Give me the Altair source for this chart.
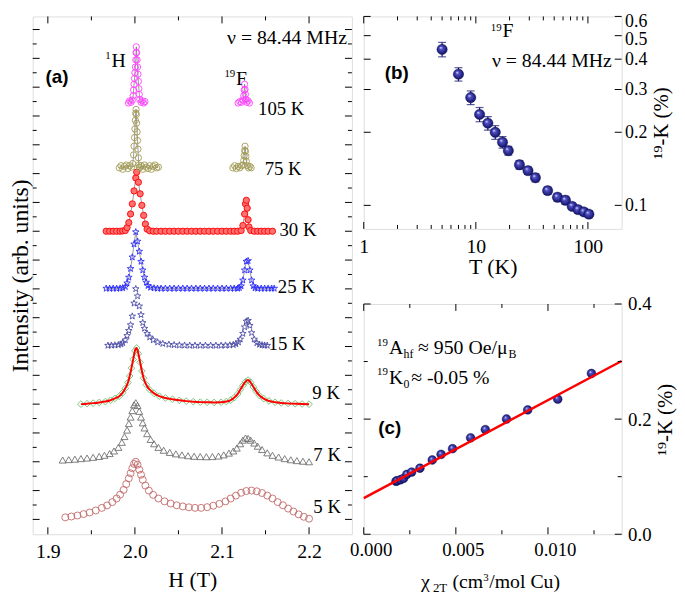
import altair as alt
import pandas as pd

SERIF = "Liberation Serif, Times New Roman, DejaVu Serif, serif"
SANS = "Liberation Sans, Arial, DejaVu Sans, sans-serif"

# ====================== panel (a): spectra (intensity in tick units, offset stacked) ======================
H_105K_H = [1.9925, 1.994, 1.9955, 1.997, 1.998, 1.9985, 1.999, 1.9995, 2.000, 2.0005, 2.001, 2.0013, 2.0016,
            2.002, 2.0025, 2.003, 2.0035, 2.004, 2.0045, 2.005, 2.0055, 2.007, 2.0085, 2.010, 2.0115]
I_105K_H = [28.90, 29.05, 28.95, 29.10, 29.40, 29.80, 30.20, 30.60, 31.00, 31.40, 31.90, 32.40, 32.80,
            32.40, 31.90, 31.40, 30.90, 30.40, 29.90, 29.50, 29.15, 28.95, 29.05, 28.90, 29.00]
H_105K_F = [2.1185, 2.1205, 2.1225, 2.124, 2.125, 2.1255, 2.126, 2.1265, 2.127, 2.1275, 2.1285, 2.130, 2.1315]
I_105K_F = [28.90, 29.00, 28.95, 29.10, 29.40, 29.80, 30.20, 29.85, 29.50, 29.15, 28.95, 29.05, 28.90]

H_75K_H = [1.982, 1.984, 1.986, 1.988, 1.990, 1.992, 1.994, 1.996, 1.9975, 1.9985, 1.999, 1.9995, 2.000, 2.0005,
           2.001, 2.0013, 2.0016, 2.002, 2.0025, 2.003, 2.0035, 2.004, 2.0045, 2.005, 2.0055, 2.007, 2.009,
           2.011, 2.013, 2.015, 2.017, 2.019, 2.021, 2.023, 2.025, 2.027]
I_75K_H = [24.40, 24.55, 24.30, 24.50, 24.60, 24.35, 24.55, 24.45, 24.70, 25.30, 25.90, 26.50, 27.10, 27.70,
           28.20, 28.46, 28.10, 27.50, 26.90, 26.30, 25.70, 25.10, 24.60, 24.45, 24.40, 24.55, 24.30, 24.60,
           24.45, 24.35, 24.55, 24.30, 24.50, 24.60, 24.40, 24.45]
H_75K_F = [2.1125, 2.1145, 2.1165, 2.1185, 2.1205, 2.1225, 2.124, 2.125, 2.1255, 2.126, 2.1265, 2.127, 2.1275,
           2.128, 2.129, 2.1305, 2.132, 2.1335]
I_75K_F = [24.40, 24.55, 24.35, 24.50, 24.40, 24.55, 24.60, 24.90, 25.25, 25.60, 25.90, 25.55, 25.20,
           24.85, 24.55, 24.40, 24.50, 24.40]

H_30K = [1.967, 1.971, 1.975, 1.979, 1.983, 1.986, 1.989, 1.991, 1.993, 1.995, 1.997, 1.999, 2.001, 2.002,
         2.004, 2.006, 2.008, 2.010, 2.012, 2.014,
         2.017, 2.021, 2.025, 2.030, 2.035, 2.040, 2.045, 2.050, 2.055, 2.060, 2.065, 2.070, 2.075, 2.080,
         2.085, 2.090, 2.095, 2.100, 2.105, 2.110, 2.114, 2.118,
         2.122, 2.124, 2.126, 2.127, 2.128, 2.129, 2.130, 2.131, 2.133,
         2.137, 2.141, 2.145, 2.149, 2.153, 2.158]
I_30K = [20.00, 20.00, 20.00, 20.00, 20.00, 20.02, 20.05, 20.25, 20.60, 21.20, 21.90, 22.80, 23.70, 24.10,
         23.40, 22.60, 21.80, 21.10, 20.50, 20.15,
         20.03, 20.00, 20.00, 20.00, 20.00, 20.00, 20.00, 20.00, 20.00, 20.00, 20.00, 20.00, 20.00, 20.00,
         20.00, 20.00, 20.00, 20.00, 20.00, 20.00, 20.00, 20.00,
         20.05, 20.40, 21.20, 21.90, 22.15, 21.60, 20.80, 20.30, 20.05,
         20.00, 20.00, 20.00, 20.00, 20.00, 20.00]

H_25K = [1.967, 1.971, 1.975, 1.979, 1.983, 1.986, 1.989, 1.991, 1.993, 1.995, 1.997, 1.999, 2.001, 2.003,
         2.005, 2.007, 2.009, 2.011, 2.013, 2.015, 2.018,
         2.022, 2.026, 2.030, 2.035, 2.040, 2.045, 2.050, 2.055, 2.060, 2.065, 2.070, 2.075, 2.080, 2.085,
         2.090, 2.095, 2.100, 2.105, 2.110, 2.114, 2.118,
         2.120, 2.122, 2.124, 2.126, 2.128, 2.130, 2.132, 2.134, 2.136, 2.138,
         2.141, 2.145, 2.149, 2.153, 2.157, 2.160]
I_25K = [16.03, 16.03, 16.03, 16.03, 16.04, 16.06, 16.15, 16.40, 16.80, 17.40, 18.20, 19.10, 19.95, 19.30,
         18.60, 17.90, 17.30, 16.80, 16.45, 16.22, 16.10,
         16.05, 16.03, 16.03, 16.03, 16.03, 16.03, 16.03, 16.03, 16.03, 16.03, 16.03, 16.03, 16.03, 16.03,
         16.03, 16.03, 16.03, 16.03, 16.03, 16.03, 16.03,
         16.08, 16.20, 16.60, 17.30, 17.90, 17.95, 17.30, 16.60, 16.20, 16.06,
         16.03, 16.03, 16.03, 16.03, 16.03, 16.03]

H_15K = [1.969, 1.973, 1.977, 1.981, 1.984, 1.986, 1.989, 1.991, 1.993, 1.995, 1.997, 1.999, 2.001, 2.003,
         2.005, 2.007, 2.009, 2.011, 2.014, 2.017, 2.021, 2.026, 2.032, 2.039,
         2.045, 2.051, 2.057, 2.063, 2.069, 2.075, 2.081, 2.087, 2.093, 2.099, 2.104, 2.109, 2.113,
         2.116, 2.119, 2.121, 2.124, 2.126, 2.128, 2.130, 2.132, 2.134, 2.137, 2.140, 2.143, 2.146, 2.149, 2.152]
I_15K = [12.07, 12.08, 12.09, 12.11, 12.16, 12.25, 12.45, 12.75, 13.10, 13.50, 14.10, 15.00, 16.00, 15.50,
         14.80, 14.20, 13.65, 13.25, 12.90, 12.65, 12.45, 12.30, 12.20, 12.14,
         12.11, 12.09, 12.08, 12.07, 12.07, 12.07, 12.07, 12.07, 12.07, 12.07, 12.08, 12.09, 12.12,
         12.18, 12.30, 12.50, 12.90, 13.35, 13.75, 13.80, 13.45, 12.95, 12.50, 12.25, 12.14, 12.10, 12.08, 12.07]

H_9K = [1.938, 1.945, 1.952, 1.959, 1.966, 1.972, 1.977, 1.982, 1.986, 1.989, 1.992, 1.994, 1.996, 1.998,
        2.000, 2.002, 2.004, 2.006, 2.008, 2.010, 2.013, 2.017, 2.022, 2.028, 2.035, 2.043, 2.051, 2.059,
        2.067, 2.075, 2.083, 2.091, 2.099, 2.105, 2.110, 2.114, 2.118, 2.121, 2.124, 2.127, 2.130, 2.133,
        2.136, 2.139, 2.143, 2.148, 2.154, 2.161, 2.168, 2.176, 2.184, 2.192, 2.200]
I_9K = [8.00, 8.03, 8.07, 8.12, 8.18, 8.27, 8.40, 8.55, 8.80, 9.10, 9.50, 9.95, 10.50, 11.10,
        11.70, 11.90, 11.50, 10.90, 10.30, 9.80, 9.35, 9.00, 8.75, 8.55, 8.43, 8.34, 8.27, 8.21,
        8.17, 8.14, 8.13, 8.12, 8.13, 8.18, 8.28, 8.45, 8.70, 9.00, 9.30, 9.55, 9.67, 9.50,
        9.20, 8.90, 8.60, 8.38, 8.22, 8.13, 8.08, 8.05, 8.03, 8.01, 8.00]

H_7K = [1.917, 1.924, 1.931, 1.938, 1.945, 1.952, 1.959, 1.965, 1.971, 1.976, 1.981, 1.985, 1.988, 1.991,
        1.993, 1.995, 1.997, 1.999, 2.001, 2.003, 2.005, 2.007, 2.009, 2.011, 2.014, 2.018, 2.022, 2.027,
        2.033, 2.040, 2.047, 2.054, 2.061, 2.068, 2.075, 2.082, 2.089, 2.096, 2.102, 2.108, 2.113, 2.117,
        2.121, 2.124, 2.127, 2.130, 2.133, 2.137, 2.141, 2.146, 2.152, 2.158, 2.165, 2.172, 2.179, 2.186,
        2.193, 2.200]
I_7K = [4.12, 4.15, 4.18, 4.22, 4.26, 4.31, 4.37, 4.45, 4.57, 4.75, 5.00, 5.35, 5.75, 6.20,
        6.65, 7.10, 7.55, 7.95, 8.10, 7.90, 7.50, 7.10, 6.70, 6.35, 5.95, 5.55, 5.25, 5.00,
        4.80, 4.65, 4.55, 4.48, 4.42, 4.38, 4.36, 4.35, 4.36, 4.40, 4.48, 4.60, 4.75, 4.95,
        5.25, 5.50, 5.65, 5.62, 5.50, 5.30, 5.08, 4.85, 4.62, 4.45, 4.33, 4.22, 4.14, 4.08,
        4.04, 4.00]

H_5K = [1.920, 1.927, 1.934, 1.941, 1.948, 1.955, 1.962, 1.968, 1.974, 1.979, 1.983, 1.987, 1.990, 1.993,
        1.995, 1.997, 1.999, 2.001, 2.003, 2.005, 2.007, 2.009, 2.012, 2.016, 2.021, 2.027, 2.034, 2.041,
        2.048, 2.055, 2.062, 2.069, 2.076, 2.083, 2.090, 2.097, 2.104, 2.110, 2.116, 2.122, 2.128, 2.134,
        2.140, 2.146, 2.152, 2.158, 2.164, 2.170, 2.176, 2.182, 2.188, 2.194, 2.200]
I_5K = [0.14, 0.20, 0.27, 0.37, 0.48, 0.62, 0.80, 0.97, 1.20, 1.45, 1.72, 2.05, 2.45, 2.85,
        3.20, 3.55, 3.85, 4.00, 3.80, 3.45, 3.10, 2.75, 2.35, 2.00, 1.70, 1.45, 1.25, 1.10,
        0.98, 0.90, 0.84, 0.80, 0.80, 0.85, 0.95, 1.08, 1.25, 1.45, 1.65, 1.85, 1.97, 2.00,
        1.95, 1.83, 1.65, 1.45, 1.20, 0.98, 0.75, 0.55, 0.35, 0.18, 0.05]

a_temp_labels = ["105 K", "75 K", "30 K", "25 K", "15 K", "9 K", "7 K", "5 K"]
a_xticks_major = [1.9, 2.0, 2.1, 2.2]
a_xticks_minor = [1.95, 2.05, 2.15]
a_yticks_major = [0, 2, 4, 6, 8, 10, 12, 14, 16, 18, 20, 22, 24, 26, 28, 30, 32, 34]
a_yticks_minor = [1, 3, 5, 7, 9, 11, 13, 15, 17, 19, 21, 23, 25, 27, 29, 31, 33]

# ====================== panel (b): 19F shift vs T ======================
b_T = [5, 7, 9, 10.8, 12.8, 14.9, 17.3, 19.5, 24.5, 29.2, 34, 43.7, 53.5, 63, 72.4, 81.7, 92, 102]
b_K = [0.439, 0.347, 0.278, 0.237, 0.218, 0.200, 0.182, 0.168, 0.147, 0.139, 0.130, 0.115, 0.108, 0.105,
       0.099, 0.096, 0.094, 0.092]
b_err = [0.030, 0.022, 0.018, 0.016, 0.014, 0.013, 0.010, 0.007, 0.006, 0.005, 0.005, 0.004, 0.004, 0.004,
         0.003, 0.003, 0.003, 0.003]
b_xticks_major = [1, 10, 100]
b_xticks_minor = [2, 3, 4, 5, 6, 7, 8, 9, 20, 30, 40, 50, 60, 70, 80, 90]
b_yticks = [0.1, 0.2, 0.3, 0.4, 0.5, 0.6]

# ====================== panel (c): K vs chi ======================
c_chi = [0.00175, 0.00181, 0.00199, 0.00216, 0.00234, 0.0026, 0.00305, 0.00372, 0.0042, 0.00482, 0.0058,
         0.0066, 0.00775, 0.0089, 0.01053, 0.01236]
c_K = [0.092, 0.0929, 0.0946, 0.097, 0.104, 0.108, 0.1147, 0.129, 0.1388, 0.1486, 0.1675, 0.1818, 0.2002,
       0.216, 0.2346, 0.2793]
c_fit_chi = [0.0, 0.014]
c_fit_K = [0.0626, 0.301]
c_xticks_major = [0.0, 0.005, 0.010]
c_xticks_minor = [0.0025, 0.0075, 0.0125]
c_yticks_major = [0.0, 0.2, 0.4]
c_yticks_minor = [0.1, 0.3]

# ====================== layout constants ======================
OXA, OY = 32, 12          # page position of panel (a) / (b) top-left
WA, HA = 323, 524
WB, HB = 261, 215
WC, HC = 261, 233
OXB, OYC = 367, 303

STAR = "M0,-1L0.235,-0.324L0.951,-0.309L0.38,0.124L0.588,0.809L0,0.4L-0.588,0.809L-0.38,0.124L-0.951,-0.309L-0.235,-0.324Z"


def edge_ticks(xs, ys, xax, yax, W, H, xmaj, xmin, ymaj, ymin, lmaj=7, lmin=4):
    layers = []
    for vals, L in ((xmaj, lmaj), (xmin, lmin)):
        if vals:
            base = alt.Chart(pd.DataFrame({"v": vals}))
            x = alt.X("v:Q", scale=xs, axis=xax)
            layers.append(base.mark_rule(color="black", strokeWidth=1).encode(x=x, y=alt.value(H), y2=alt.value(H - L)))
            layers.append(base.mark_rule(color="black", strokeWidth=1).encode(x=x, y=alt.value(0), y2=alt.value(L)))
    for vals, L in ((ymaj, lmaj), (ymin, lmin)):
        if vals:
            base = alt.Chart(pd.DataFrame({"v": vals}))
            y = alt.Y("v:Q", scale=ys, axis=yax)
            layers.append(base.mark_rule(color="black", strokeWidth=1).encode(y=y, x=alt.value(0), x2=alt.value(L)))
            layers.append(base.mark_rule(color="black", strokeWidth=1).encode(y=y, x=alt.value(W), x2=alt.value(W - L)))
    return layers


def txt(s, x, y, size=19, font=SERIF, weight="normal", align="left", baseline="middle"):
    return alt.Chart(pd.DataFrame({"t": [s]})).mark_text(
        font=font, fontSize=size, fontWeight=weight, align=align, baseline=baseline, color="black"
    ).encode(x=alt.value(x), y=alt.value(y), text="t:N")


# ====================== panel (a) ======================
xa = alt.Scale(domain=[1.8826, 2.2492], nice=False, zero=False)
ya = alt.Scale(domain=[-1.03, 34.91], nice=False, zero=False)

ax_a_x = alt.Axis(values=a_xticks_major, format=".1f", labelFont=SERIF, labelFontSize=20, labelColor="black",
                  labelPadding=8, labelFlush=False, labelOverlap=False, ticks=False, tickSize=0, domain=False,
                  grid=False, title="H (T)", titleFont=SERIF, titleFontSize=22, titleFontWeight="normal",
                  titleColor="black", titlePadding=8)
ax_a_y = alt.Axis(labels=False, ticks=False, tickSize=0, domain=False, grid=False,
                  title="Intensity (arb. units)", titleFont=SERIF, titleFontSize=24,
                  titleFontWeight="normal", titleColor="black", titlePadding=0)


def spec(H, I, shape, size, stroke, fill=None, sw=0.9):
    df = pd.DataFrame({"H": H, "I": I})
    if fill is None:
        m = alt.Chart(df).mark_point(shape=shape, size=size, filled=False, color=stroke, strokeWidth=sw, opacity=1)
    else:
        m = alt.Chart(df).mark_point(shape=shape, size=size, filled=True, fill=fill, stroke=stroke,
                                     strokeWidth=sw, opacity=1, fillOpacity=1)
    return m.encode(x=alt.X("H:Q", scale=xa, axis=ax_a_x), y=alt.Y("I:Q", scale=ya, axis=ax_a_y))


def trace(H, I, color="#555555", sw=0.6, interp="linear"):
    return alt.Chart(pd.DataFrame({"H": H, "I": I})).mark_line(
        color=color, strokeWidth=sw, interpolate=interp).encode(
        x=alt.X("H:Q", scale=xa, axis=ax_a_x), y=alt.Y("I:Q", scale=ya, axis=ax_a_y))


def pa(x, y):
    return x - OXA, y - OY


a_layers = [
    spec(H_5K, I_5K, "circle", 50, "#c26a6a"),
    spec(H_7K, I_7K, "triangle-up", 50, "#707070"),
    spec(H_9K, I_9K, "diamond", 46, "#6cbf6c"),
    trace(H_9K, I_9K, color="#ff0000", sw=2, interp="monotone"),
    spec(H_15K, I_15K, STAR, 48, "#4a4aa6"),
    trace(H_25K, I_25K),
    spec(H_25K, I_25K, STAR, 48, "#2a2aff"),
    trace(H_30K, I_30K),
    spec(H_30K, I_30K, "circle", 40, "#ff0000", fill="#ff7070"),
    trace(H_75K_H, I_75K_H),
    trace(H_75K_F, I_75K_F),
    spec(H_75K_H, I_75K_H, "circle", 40, "#a39c55"),
    spec(H_75K_F, I_75K_F, "circle", 40, "#a39c55"),
    trace(H_105K_H, I_105K_H),
    trace(H_105K_F, I_105K_F),
    spec(H_105K_H, I_105K_H, "circle", 40, "#ff40ff"),
    spec(H_105K_F, I_105K_F, "circle", 40, "#ff40ff"),
]
a_layers += edge_ticks(xa, ya, ax_a_x, ax_a_y, WA, HA, a_xticks_major, a_xticks_minor, a_yticks_major, a_yticks_minor)

a_label_page = [(260, 106), (266.7, 166), (281.7, 228.3), (280, 286), (270.7, 344), (315, 393), (316, 456.3), (316, 508)]
for lab, (px, py) in zip(a_temp_labels, a_label_page):
    a_layers.append(txt(lab, *pa(px, py), size=19))
a_layers += [
    txt("\u03bd = 84.44 MHz", *pa(350, 40), size=20, align="right", baseline="alphabetic"),
    txt("1", *pa(105.5, 55), size=11, baseline="alphabetic"),
    txt("H", *pa(111.7, 63.3), size=20, baseline="alphabetic"),
    txt("19", *pa(226, 73.3), size=11, baseline="alphabetic"),
    txt("F", *pa(237.8, 81.7), size=20, baseline="alphabetic"),
    txt("(a)", *pa(45, 73.5), size=19, font=SANS, weight="bold"),
]
panel_a = alt.layer(*a_layers).properties(width=WA, height=HA)

# ====================== panel (b) ======================
xb = alt.Scale(type="log", domain=[1, 200], nice=False)
yb = alt.Scale(type="log", domain=[0.08, 0.6], nice=False)

sphere = alt.RadialGradient(
    gradient="radial",
    stops=[alt.GradientStop(offset=0, color="#eef0ff"),
           alt.GradientStop(offset=0.28, color="#4f4fc4"),
           alt.GradientStop(offset=1, color="#0b0b5c")],
    x1=0.36, y1=0.32, r1=0, x2=0.5, y2=0.5, r2=0.55,
)

df_b = pd.DataFrame({"T": b_T, "K": b_K, "err": b_err})
df_b["lo"] = df_b["K"] - df_b["err"]
df_b["hi"] = df_b["K"] + df_b["err"]

ax_b_x = alt.Axis(values=b_xticks_major, format="~g", labelFont=SERIF, labelFontSize=20, labelColor="black",
                  labelPadding=8, labelFlush=False, labelOverlap=False, ticks=False, tickSize=0, domain=False,
                  grid=False, title="T (K)", titleFont=SERIF, titleFontSize=22, titleFontWeight="normal",
                  titleColor="black", titlePadding=0)
ax_b_y = alt.Axis(orient="right", values=b_yticks, format=".1f", labelFont=SERIF, labelFontSize=18,
                  labelColor="black", labelPadding=3, labelFlush=True, labelFlushOffset=4, labelOverlap=False,
                  labelOffset={"condition": {"test": "abs(datum.value - 0.5) < 0.001", "value": 4}, "value": 0},
                  ticks=False, tickSize=0, domain=False, grid=False, title="\u00b9\u2079-K (%)", titleFont=SERIF,
                  titleFontSize=21, titleFontWeight="normal", titleColor="black", titleAngle=270,
                  titleBaseline="top", titleAlign="center", titlePadding=4)

XB = alt.X("T:Q", scale=xb, axis=ax_b_x)
b_layers = [
    alt.Chart(df_b).mark_rule(color="#14146e", strokeWidth=1.2).encode(
        x=XB, y=alt.Y("lo:Q", scale=yb, axis=ax_b_y), y2="hi:Q"),
    alt.Chart(df_b).mark_tick(orient="horizontal", size=8, thickness=1.2, color="#14146e").encode(
        x=XB, y=alt.Y("lo:Q", scale=yb, axis=ax_b_y)),
    alt.Chart(df_b).mark_tick(orient="horizontal", size=8, thickness=1.2, color="#14146e").encode(
        x=XB, y=alt.Y("hi:Q", scale=yb, axis=ax_b_y)),
    alt.Chart(df_b).mark_circle(size=110, fill=sphere, opacity=1, stroke="#0b0b50", strokeWidth=0.4).encode(
        x=XB, y=alt.Y("K:Q", scale=yb, axis=ax_b_y)),
]
b_layers += edge_ticks(xb, yb, ax_b_x, ax_b_y, WB, HB, b_xticks_major, b_xticks_minor, b_yticks, [])


def pb(x, y):
    return x - OXB, y - OY


b_layers += [
    txt("(b)", *pb(388.3, 69), size=19, font=SANS, weight="bold"),
    txt("19", *pb(495.5, 26.7), size=11, baseline="alphabetic"),
    txt("F", *pb(507.3, 33.3), size=20, baseline="alphabetic"),
    txt("\u03bd = 84.44 MHz", *pb(496.7, 63.3), size=20, baseline="alphabetic"),
]
panel_b = alt.layer(*b_layers).properties(width=WB, height=HB)

# ====================== panel (c) ======================
xc = alt.Scale(domain=[0, 0.014], nice=False, zero=False)
yc = alt.Scale(domain=[0, 0.4], nice=False, zero=False)

ax_c_x = alt.Axis(values=c_xticks_major, format=".3f", labelFont=SERIF, labelFontSize=19, labelColor="black",
                  labelPadding=7, labelOffset=7, labelFlush=False, labelOverlap=False, ticks=False, tickSize=0,
                  domain=False, grid=False, title=None)
ax_c_y = alt.Axis(orient="right", values=c_yticks_major, format=".1f", labelFont=SERIF, labelFontSize=19,
                  labelColor="black", labelPadding=6, labelFlush=False, labelOverlap=False, ticks=False,
                  tickSize=0, domain=False, grid=False, title="\u00b9\u2079-K (%)", titleFont=SERIF,
                  titleFontSize=21, titleFontWeight="normal", titleColor="black", titleAngle=270,
                  titleBaseline="top", titleAlign="center", titlePadding=4)

df_c = pd.DataFrame({"chi": c_chi, "K": c_K})
df_cfit = pd.DataFrame({"chi": c_fit_chi, "K": c_fit_K})
c_layers = [
    alt.Chart(df_c).mark_circle(size=80, fill=sphere, opacity=1, stroke="#0b0b50", strokeWidth=0.4).encode(
        x=alt.X("chi:Q", scale=xc, axis=ax_c_x), y=alt.Y("K:Q", scale=yc, axis=ax_c_y)),
    alt.Chart(df_cfit).mark_line(color="#ff0000", strokeWidth=2.5).encode(
        x=alt.X("chi:Q", scale=xc, axis=ax_c_x), y=alt.Y("K:Q", scale=yc, axis=ax_c_y)),
]
c_layers += edge_ticks(xc, yc, ax_c_x, ax_c_y, WC, HC, c_xticks_major, c_xticks_minor, c_yticks_major, c_yticks_minor)


def pc(x, y):
    return x - OXB, y - OYC


c_layers += [
    txt("19", *pc(380.5, 345.3), size=11, baseline="alphabetic"),
    txt("A", *pc(392.5, 353.6), size=20, baseline="alphabetic"),
    txt("hf", *pc(407.2, 357.5), size=12, baseline="alphabetic"),
    txt("\u2248 950 Oe/\u03bc", *pc(422, 353.6), size=20, baseline="alphabetic"),
    txt("B", *pc(513.5, 357.5), size=12, baseline="alphabetic"),
    txt("19", *pc(380.5, 375.3), size=11, baseline="alphabetic"),
    txt("K", *pc(392.5, 383.6), size=20, baseline="alphabetic"),
    txt("0", *pc(407.2, 387.6), size=12, baseline="alphabetic"),
    txt("\u2248 -0.05 %", *pc(415, 383.6), size=20, baseline="alphabetic"),
    txt("(c)", *pc(381.7, 428.6), size=19, font=SANS, weight="bold"),
    txt("\u03c7", *pc(425, 590), size=20, baseline="alphabetic"),
    txt("2T", *pc(437, 594), size=13, baseline="alphabetic"),
    txt("(cm", *pc(456.7, 590), size=20, baseline="alphabetic"),
    txt("3", *pc(488, 583.5), size=11, baseline="alphabetic"),
    txt("/mol Cu)", *pc(494, 590), size=20, baseline="alphabetic"),
]
panel_c = alt.layer(*c_layers).properties(width=WC, height=HC)

right = alt.vconcat(panel_b, panel_c, spacing=(OYC - OY) - HB, bounds="flush")
chart = alt.hconcat(panel_a, right, spacing=OXB - (OXA + WA), bounds="flush").properties(
    padding={"left": 0, "top": 0, "right": 0, "bottom": 0}, background="white"
).configure_view(stroke="black", strokeWidth=1).configure(font=SERIF)

chart.save("out.html", embed_options={"renderer": "svg", "actions": False})
